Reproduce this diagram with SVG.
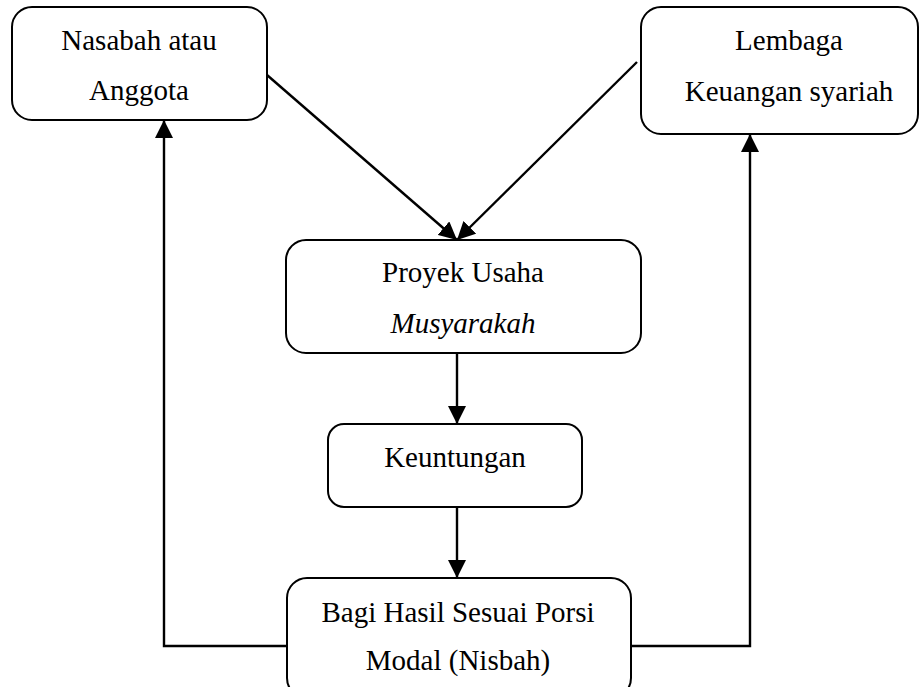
<svg xmlns="http://www.w3.org/2000/svg" width="920" height="687" viewBox="0 0 920 687">
<defs>
<style>
.box{fill:#fff;stroke:#000;stroke-width:2}
text{font-family:'Liberation Serif','Times New Roman',serif;font-size:29px;fill:#000;text-anchor:middle}
.i{font-style:italic}
.c{fill:none;stroke:#000;stroke-width:2.4}
</style>
<marker id="ah" markerUnits="userSpaceOnUse" markerWidth="18" markerHeight="18" refX="17" refY="8.5" orient="auto" viewBox="0 0 17 17">
<path d="M0,0 L17,8.5 L0,17 z" fill="#000"/>
</marker>
</defs>
<rect width="920" height="687" fill="#fff"/>
<g id="connectors">
<line class="c" x1="267" y1="75" x2="457" y2="240" marker-end="url(#ah)"/>
<line class="c" x1="637" y1="62" x2="457" y2="240" marker-end="url(#ah)"/>
<line class="c" x1="457" y1="353" x2="457" y2="424" marker-end="url(#ah)"/>
<line class="c" x1="457" y1="507" x2="457" y2="578" marker-end="url(#ah)"/>
<polyline class="c" points="287,646 164,646 164,120" marker-end="url(#ah)"/>
<polyline class="c" points="631,646 750,646 750,134" marker-end="url(#ah)"/>
</g>
<g id="nasabah">
<rect class="box" x="12" y="7" width="255" height="113" rx="20"/>
<text x="139" y="50">Nasabah atau</text>
<text x="139" y="100">Anggota</text>
</g>
<g id="lembaga">
<rect class="box" x="641" y="7" width="277" height="127" rx="20"/>
<text x="789" y="50">Lembaga</text>
<text x="789" y="101">Keuangan syariah</text>
</g>
<g id="proyek">
<rect class="box" x="286" y="240" width="355" height="113" rx="20"/>
<text x="463" y="282">Proyek Usaha</text>
<text class="i" x="463" y="333">Musyarakah</text>
</g>
<g id="keuntungan">
<rect class="box" x="328" y="424" width="254" height="83" rx="16"/>
<text x="455" y="467">Keuntungan</text>
</g>
<g id="bagi">
<rect class="box" x="287" y="578" width="344" height="120" rx="20"/>
<text x="458" y="622">Bagi Hasil Sesuai Porsi</text>
<text x="458" y="670">Modal (Nisbah)</text>
</g>
</svg>
